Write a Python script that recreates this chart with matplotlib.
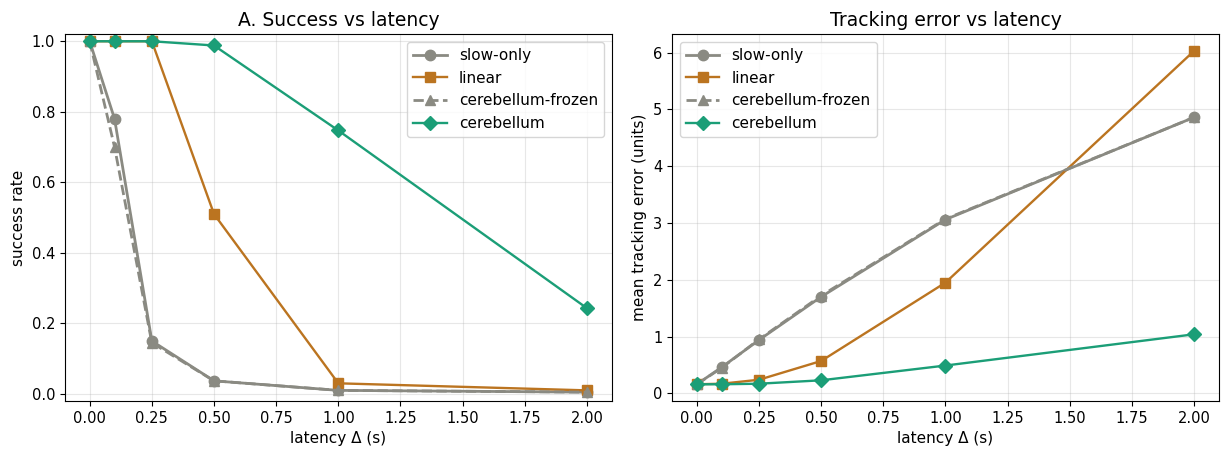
import numpy as np
import matplotlib
matplotlib.use("Agg")
import matplotlib.pyplot as plt

latency = [0.0, 0.1, 0.25, 0.5, 1.0, 2.0]

success_slow = [1.0, 0.78, 0.15, 0.037, 0.01, 0.005]
success_linear = [1.0, 1.0, 1.0, 0.51, 0.03, 0.01]
success_frozen = [1.0, 0.70, 0.145, 0.037, 0.01, 0.005]
success_cb = [1.0, 1.0, 1.0, 0.988, 0.747, 0.243]

err_slow = [0.16, 0.46, 0.94, 1.70, 3.06, 4.86]
err_linear = [0.16, 0.17, 0.24, 0.57, 1.95, 6.03]
err_frozen = [0.16, 0.45, 0.95, 1.72, 3.07, 4.86]
err_cb = [0.16, 0.16, 0.17, 0.23, 0.49, 1.04]

GRAY = "#8a8a82"
ORANGE = "#bb7420"
TEAL = "#1b9e77"

plt.rcParams["xtick.labelsize"] = 10.5
plt.rcParams["ytick.labelsize"] = 10.5

fig, axes = plt.subplots(1, 2, figsize=(12.23, 4.5), dpi=100)
fig.subplots_adjust(left=0.053, right=0.9967, top=0.924, bottom=0.109, wspace=0.11)


def draw(ax, slow, lin, frz, cb):
    ax.plot(latency, slow, color=GRAY, marker="o", ms=7.5, lw=2.0, label="slow-only")
    ax.plot(latency, lin, color=ORANGE, marker="s", ms=7.5, lw=1.7, label="linear")
    ax.plot(latency, frz, color=GRAY, marker="^", ms=7.5, lw=2.0, ls="--", label="cerebellum-frozen")
    ax.plot(latency, cb, color=TEAL, marker="D", ms=7.5, lw=1.7, label="cerebellum")
    ax.grid(True, alpha=0.3)
    ax.set_xlabel("latency Δ (s)", fontsize=11)


ax = axes[0]
draw(ax, success_slow, success_linear, success_frozen, success_cb)
ax.set_ylim(-0.02, 1.02)
ax.set_ylabel("success rate", fontsize=11)
ax.set_title("A. Success vs latency", fontsize=13.5)
ax.legend(loc="upper right", fontsize=11, handlelength=2.2)

ax = axes[1]
draw(ax, err_slow, err_linear, err_frozen, err_cb)
ax.set_ylabel("mean tracking error (units)", fontsize=11)
ax.set_title("Tracking error vs latency", fontsize=13.5)
ax.legend(loc="upper left", fontsize=11, handlelength=2.2)

fig.savefig("out.png")
